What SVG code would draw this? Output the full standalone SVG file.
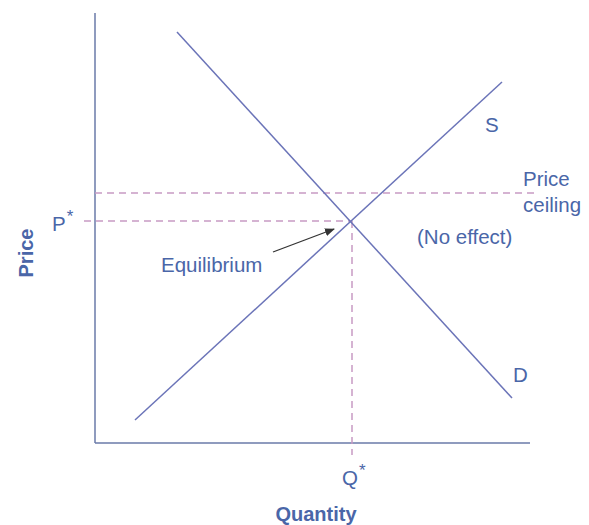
<svg xmlns="http://www.w3.org/2000/svg" width="589" height="525" viewBox="0 0 589 525">
<style>
text{font-family:"Liberation Sans",Arial,sans-serif;fill:#4a66a8;font-size:20.5px}
.b{font-weight:bold;font-size:20px}
.st{font-size:17px}
.ax{stroke:#6a7aa8;stroke-width:1.5;fill:none}
.cv{stroke:#6b74b8;stroke-width:1.5;fill:none}
.ds{stroke:#c79ac4;stroke-width:1.5;stroke-dasharray:7,5;fill:none}
</style>
<defs>
<marker id="ah" markerWidth="10" markerHeight="8" refX="9" refY="4" orient="auto" markerUnits="userSpaceOnUse">
<path d="M0,0 L10,4 L0,8 z" fill="#333"/>
</marker>
</defs>
<rect width="589" height="525" fill="#fff"/>
<g id="axes">
<line class="ax" x1="95" y1="13" x2="95" y2="443"/>
<line class="ax" x1="95" y1="443" x2="530" y2="443"/>
</g>
<g id="connectors">
<line class="ds" x1="95" y1="193" x2="538" y2="193"/>
<line class="ds" x1="84" y1="221" x2="352" y2="221"/>
<line class="ds" x1="352" y1="221" x2="352" y2="455"/>
<line class="cv" x1="177" y1="32" x2="512" y2="398"/>
<line class="cv" x1="135" y1="420" x2="502" y2="82"/>
<line x1="273" y1="252" x2="334" y2="229" stroke="#333" stroke-width="1.3" marker-end="url(#ah)"/>
</g>
<g id="labels">
<text class="b" transform="translate(33,253) rotate(-90)" text-anchor="middle">Price</text>
<text x="52" y="231">P<tspan class="st" dx="1" dy="-9">*</tspan></text>
<text x="523" y="186">Price</text>
<text x="523" y="212">ceiling</text>
<text x="417" y="244">(No effect)</text>
<text x="161" y="272">Equilibrium</text>
<text x="485" y="132">S</text>
<text x="513" y="382">D</text>
<text x="342" y="485">Q<tspan class="st" dx="1" dy="-9">*</tspan></text>
<text class="b" x="316" y="521" text-anchor="middle">Quantity</text>
</g>
</svg>
